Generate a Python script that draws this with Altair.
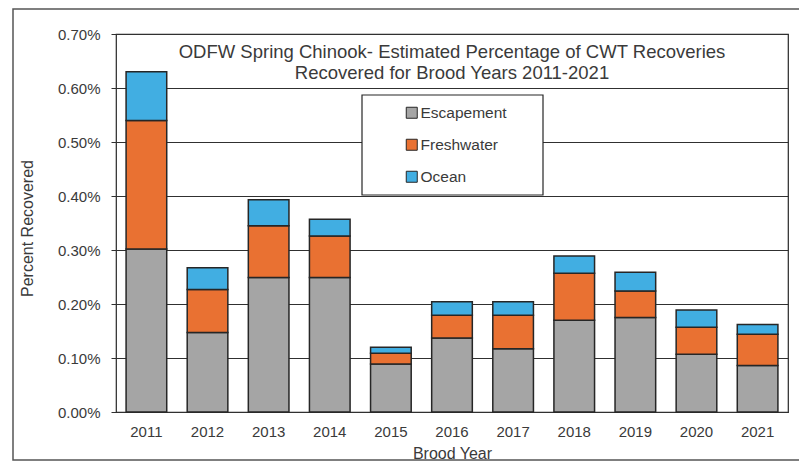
import altair as alt
import pandas as pd

years = ["2011", "2012", "2013", "2014", "2015", "2016", "2017", "2018", "2019", "2020", "2021"]
escapement = [0.302, 0.147, 0.249, 0.249, 0.089, 0.137, 0.117, 0.170, 0.175, 0.107, 0.086]
freshwater = [0.238, 0.080, 0.096, 0.077, 0.020, 0.042, 0.062, 0.087, 0.049, 0.050, 0.058]
ocean = [0.090, 0.040, 0.048, 0.031, 0.011, 0.025, 0.025, 0.032, 0.035, 0.032, 0.018]
series = ["Escapement", "Freshwater", "Ocean"]
colors = ["#A5A5A5", "#E97132", "#41AEE2"]
title_lines = ["ODFW Spring Chinook- Estimated Percentage of CWT Recoveries",
               "Recovered for Brood Years 2011-2021"]

rows = []
for i, y in enumerate(years):
    for k, (name, vals) in enumerate(zip(series, [escapement, freshwater, ocean])):
        rows.append({"year": y, "type": name, "value": vals[i] / 100.0, "order": k})
df = pd.DataFrame(rows)

FONT = "Liberation Sans"
TXT = "#3a3a3a"

bars = alt.Chart(df).mark_bar(stroke="#262626", strokeWidth=1.5).encode(
    x=alt.X("year:N", sort=years,
            scale=alt.Scale(paddingInner=0.335, paddingOuter=0.165),
            axis=alt.Axis(title="Brood Year", labelAngle=0, ticks=False, domain=False,
                          labelPadding=12, labelFontSize=15, labelColor=TXT,
                          titleFontSize=16, titleFontWeight="normal", titleColor=TXT,
                          titlePadding=6, labelFont=FONT, titleFont=FONT)),
    y=alt.Y("value:Q", stack="zero",
            scale=alt.Scale(domain=[0, 0.007], nice=False),
            axis=alt.Axis(title="Percent Recovered", format=".2%",
                          values=[0, 0.001, 0.002, 0.003, 0.004, 0.005, 0.006, 0.007],
                          grid=True, gridColor="#303030", gridWidth=1,
                          tickSize=5, tickColor="#303030", domain=False,
                          labelPadding=11, labelFontSize=15, labelColor=TXT,
                          labelFont=FONT, titleFont=FONT, titleFontSize=16,
                          titleFontWeight="normal", titleColor=TXT,
                          titleAngle=270, titleX=-89, titleY=194,
                          titleAlign="center", titleBaseline="middle")),
    color=alt.Color("type:N", sort=series,
                    scale=alt.Scale(domain=series, range=colors),
                    legend=alt.Legend(title=None, orient="none", legendX=288, legendY=71,
                                      symbolType="square", symbolSize=121,
                                      symbolStrokeColor="#262626", symbolStrokeWidth=1,
                                      labelFontSize=15.5, labelFont=FONT, labelColor=TXT,
                                      labelOffset=1, rowPadding=15, padding=0)),
    order=alt.Order("order:Q"),
)

legend_box = alt.Chart(pd.DataFrame({"a": [0]})).mark_rect(
    fill="white", stroke="#262626", strokeWidth=1.2
).encode(x=alt.value(246), x2=alt.value(427), y=alt.value(61), y2=alt.value(161))

title_df = pd.DataFrame({"t": ["\n".join(title_lines)]})
title = alt.Chart(title_df).mark_text(
    font=FONT, fontSize=18.5, color=TXT, lineBreak="\n", lineHeight=21,
    align="center", baseline="middle"
).encode(text="t:N", x=alt.value(336), y=alt.value(18))

border = alt.Chart(pd.DataFrame({"a": [0]})).mark_rect(
    fill=None, stroke="#555", strokeWidth=1.5, clip=False
).encode(x=alt.value(-103), x2=alt.value(720), y=alt.value(-25), y2=alt.value(426))

chart = alt.layer(border, bars, legend_box, title).properties(
    width=672, height=378,
    autosize=alt.AutoSizeParams(type="none"),
    padding={"left": 108, "top": 26, "right": 11, "bottom": 50},
).configure_view(stroke="#262626", strokeWidth=1.2)

chart.save("out.html", embed_options={"renderer": "svg", "actions": False})
